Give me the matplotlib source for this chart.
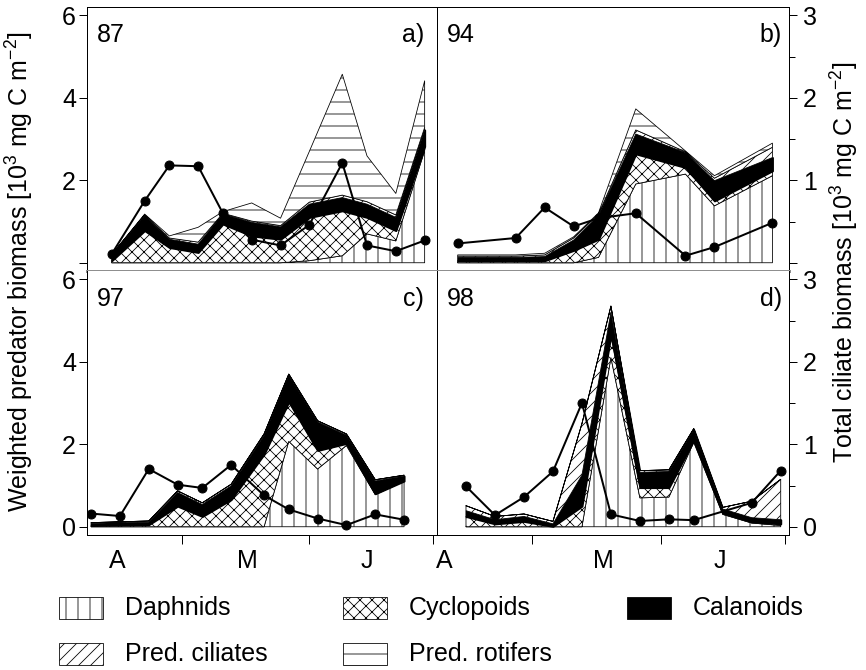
import numpy as np
import matplotlib.pyplot as plt
from matplotlib.patches import Rectangle

plt.rcParams['font.family'] = ['Liberation Sans', 'DejaVu Sans']
plt.rcParams['mathtext.default'] = 'regular'
plt.rcParams['hatch.linewidth'] = 0.8

W, H = 866, 670
FS = 25

# sampling days (days after 1 April)
days_87 = [13, 21, 27, 34, 40, 47, 54, 61, 69, 75, 82, 89]
days_94 = [12, 26, 33, 40, 46, 55, 67, 74, 88]
days_97 = [8, 15, 22, 29, 35, 42, 50, 56, 63, 70, 77, 84]
days_98 = [14, 21, 28, 35, 42, 49, 56, 63, 69, 76, 83, 90]

# weighted predator biomass, 10^3 mg C m-2
daph_87 = [0, 0, 0, 0, 0, 0, 0, 0.05, 0.17, 0.7, 0.53, 2.72]
cyc_87 = [0.05, 0.78, 0.37, 0.25, 0.94, 0.65, 0.57, 1.05, 1.09, 0.4, 0.25, 0.1]
cal_87 = [0.15, 0.36, 0.2, 0.2, 0.24, 0.33, 0.3, 0.32, 0.32, 0.32, 0.32, 0.4]
cil_87 = [0, 0.02, 0.03, 0.05, 0.02, 0.03, 0.03, 0.05, 0.06, 0.06, 0.06, 0.06]
rot_87 = [0, 0.02, 0.05, 0.36, 0.04, 0.44, 0.18, 1.23, 2.93, 1.11, 0.52, 1.13]

daph_94 = [0, 0, 0, 0, 0.13, 1.91, 2.15, 1.38, 2.11]
cyc_94 = [0.05, 0.05, 0.05, 0.3, 0.44, 0.73, 0.16, 0.12, 0.12]
cal_94 = [0.08, 0.08, 0.1, 0.25, 0.57, 0.48, 0.36, 0.49, 0.32]
cil_94 = [0.03, 0.03, 0.04, 0.05, 0.04, 0.1, 0.02, 0.06, 0.25]
rot_94 = [0.03, 0.03, 0.04, 0.03, 0.03, 0.51, 0.02, 0.06, 0.1]

daph_97 = [0, 0, 0, 0, 0, 0, 0, 2.07, 1.4, 1.97, 0.78, 1.1]
cyc_97 = [0.03, 0.04, 0.05, 0.5, 0.25, 0.66, 1.76, 0.96, 0.45, 0.05, 0.02, 0.01]
cal_97 = [0.05, 0.06, 0.06, 0.33, 0.29, 0.33, 0.45, 0.64, 0.69, 0.2, 0.31, 0.12]
cil_97 = [0.02, 0.02, 0.03, 0.04, 0.04, 0.04, 0.04, 0.03, 0.03, 0.03, 0.03, 0.02]
rot_97 = [0, 0, 0, 0, 0, 0, 0, 0, 0, 0, 0, 0]

daph_98 = [0, 0, 0, 0, 0, 4.1, 0.7, 0.72, 2.05, 0.3, 0.09, 0.03]
cyc_98 = [0.25, 0.07, 0.13, 0.01, 0.5, 0.55, 0.25, 0.23, 0.05, 0.03, 0.03, 0.04]
cal_98 = [0.14, 0.1, 0.12, 0.06, 0.75, 0.55, 0.37, 0.39, 0.25, 0.1, 0.1, 0.1]
cil_98 = [0.12, 0.08, 0.06, 0.06, 1.25, 0.15, 0.04, 0.04, 0.03, 0.04, 0.4, 0.98]
rot_98 = [0, 0, 0, 0, 0, 0, 0, 0, 0, 0, 0, 0]

# total ciliate biomass, 10^3 mg C m-2
cilt_days_87 = days_87
cilt_87 = [0.105, 0.75, 1.18, 1.17, 0.6, 0.28, 0.21, 0.46, 1.21, 0.21, 0.14, 0.27]
cilt_days_94 = days_94
cilt_94 = [0.234, 0.3, 0.67, 0.44, 0.54, 0.6, 0.085, 0.19, 0.485]
cilt_days_97 = days_97
cilt_97 = [0.16, 0.13, 0.7, 0.51, 0.47, 0.75, 0.38, 0.21, 0.1, 0.02, 0.15, 0.085]
cilt_days_98 = [14, 21, 28, 35, 42, 49, 56, 63, 69, 83, 90]
cilt_98 = [0.49, 0.14, 0.36, 0.67, 1.5, 0.15, 0.07, 0.09, 0.08, 0.29, 0.68]

groups = ['Daphnids', 'Cyclopoids', 'Calanoids', 'Pred. ciliates', 'Pred. rotifers']
faces = ['white', 'white', 'black', 'white', 'white']
hatches = ['|', 'xx', None, '//', '-']
edges = [0.8, 0.8, 2.0, 0.8, 0.8]

month_edges = [30, 61, 91]
month_names = ['A', 'M', 'J']


def fig_box(x0, y0, x1, y1):
    # pixel box (top-left origin) -> figure fraction rect
    return [x0 / W, 1 - y1 / H, (x1 - x0) / W, (y1 - y0) / H]


def draw_stack(ax, days, layers):
    base = np.zeros(len(days))
    for values, face, hatch, lw in zip(layers, faces, hatches, edges):
        top = base + np.array(values)
        ax.fill_between(days, base, top, facecolor=face, edgecolor='black',
                        hatch=hatch, linewidth=lw, zorder=2)
        base = top


fig = plt.figure(figsize=(W / 72, H / 72), dpi=72)

panels = [
    ('87', 'a)', fig_box(87, 7, 437, 271), days_87,
     [daph_87, cyc_87, cal_87, cil_87, rot_87], cilt_days_87, cilt_87, 'top', 'left'),
    ('94', 'b)', fig_box(437, 7, 789, 271), days_94,
     [daph_94, cyc_94, cal_94, cil_94, rot_94], cilt_days_94, cilt_94, 'top', 'right'),
    ('97', 'c)', fig_box(87, 271, 437, 535), days_97,
     [daph_97, cyc_97, cal_97, cil_97, rot_97], cilt_days_97, cilt_97, 'bottom', 'left'),
    ('98', 'd)', fig_box(437, 271, 789, 535), days_98,
     [daph_98, cyc_98, cal_98, cil_98, rot_98], cilt_days_98, cilt_98, 'bottom', 'right'),
]

month_pos = {'left': [14.3, 45.9, 75.0], 'right': [8.7, 47.1, 75.3]}

for year, tag, rect, days, layers, cdays, cvals, row, col in panels:
    ax = fig.add_axes(rect)
    draw_stack(ax, days, layers)
    ax.set_xlim(7, 92)
    ax.set_ylim(-0.2, 6.2)
    for sp in ax.spines.values():
        sp.set_color('black')
        sp.set_linewidth(1.0)

    tw = ax.twinx()
    tw.plot(cdays, cvals, color='black', lw=2, marker='o', ms=9, zorder=5)
    tw.set_ylim(-0.1, 3.1)
    for sp in tw.spines.values():
        sp.set_visible(False)

    if row == 'top':
        ax.spines['bottom'].set_color('#8f8f8f')
        ax.spines['bottom'].set_linewidth(3)
        ax.set_xticks([])
    else:
        ax.spines['top'].set_visible(False)
        ax.set_xticks(month_edges)
        ax.set_xticklabels([])
        ax.tick_params(axis='x', which='major', direction='out', length=9, width=1)
        ax.set_xticks(month_pos[col], minor=True)
        ax.set_xticklabels(month_names, minor=True, fontsize=FS)
        ax.tick_params(axis='x', which='minor', length=0, pad=14)

    if col == 'left':
        ax.set_yticks([0, 2, 4, 6])
        ax.set_yticklabels(['' if row == 'top' else '0', '2', '4', '6'], fontsize=FS)
        ax.tick_params(axis='y', direction='out', length=8, width=1, pad=3)
        tw.set_yticks([])
        rx = 1 - 13 / 350
    else:
        ax.set_yticks([])
        tw.set_yticks([0, 1, 2, 3])
        tw.set_yticks([0.5, 1.5, 2.5], minor=True)
        tw.set_yticklabels(['' if row == 'top' else '0', '1', '2', '3'], fontsize=FS)
        tw.tick_params(axis='y', which='major', direction='out', length=8, width=1, pad=6)
        tw.tick_params(axis='y', which='minor', direction='out', length=6, width=1)
        rx = 1 - 7 / 352

    ax.text(10 / 350, 0.867, year, transform=ax.transAxes, fontsize=FS,
            ha='left', va='baseline')
    ax.text(rx, 0.867, tag, transform=ax.transAxes, fontsize=FS,
            ha='right', va='baseline')

fig.text(20 / W, 1 - 272 / H, r'Weighted predator biomass [10$^{3}$ mg C m$^{-2}$]',
         rotation=90, ha='center', va='center', fontsize=FS)
fig.text(845 / W, 1 - 262 / H, r'Total ciliate biomass [10$^{3}$ mg C m$^{-2}$]',
         rotation=90, ha='center', va='center', fontsize=FS)

# legend drawn by hand below the panels
legend_cols = [59, 343, 627]
legend_rows = [608, 654]
for i, name in enumerate(groups):
    x0 = legend_cols[i % 3]
    yc = legend_rows[i // 3]
    box = fig_box(x0, yc - 11, x0 + 44, yc + 11)
    fig.patches.append(Rectangle((box[0], box[1]), box[2], box[3],
                                 transform=fig.transFigure, facecolor=faces[i],
                                 edgecolor='black', hatch=hatches[i], linewidth=0.8))
    fig.text((x0 + 66) / W, 1 - yc / H, name, fontsize=FS, ha='left', va='center')

fig.savefig('out.png', dpi=72)
